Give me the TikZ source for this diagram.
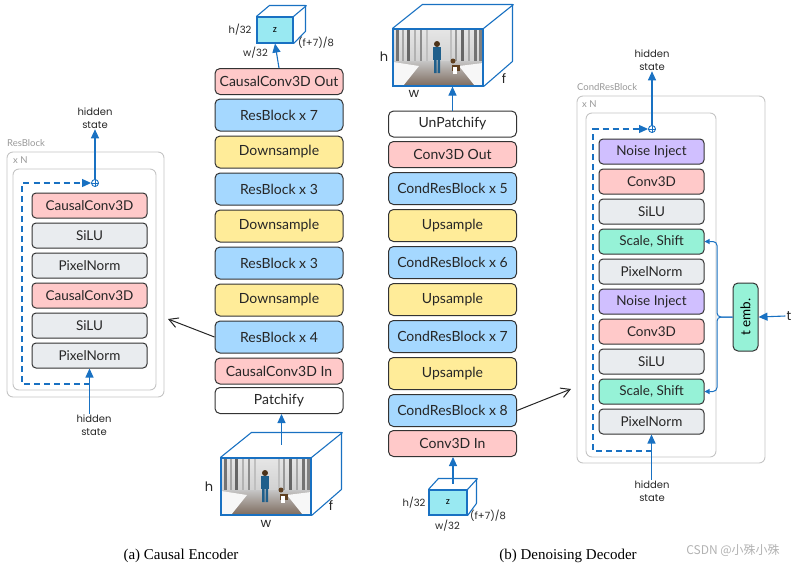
\documentclass[tikz,border=0pt]{standalone}
\usepackage{fontspec}
\usepackage{xcolor}
\usepackage{tikz}
\usetikzlibrary{positioning,arrows.meta,calc}

\newfontfamily\boxfont{Lato}
\newfontfamily\handfont{Poppins}
\newfontfamily\capfont{Liberation Serif}
\newfontfamily\cjk{Noto Sans CJK SC}

\definecolor{convpink}{HTML}{FFC9C9}
\definecolor{resblue}{HTML}{A5D8FF}
\definecolor{sampyellow}{HTML}{FFEC99}
\definecolor{actgray}{HTML}{E9ECEF}
\definecolor{noisepurple}{HTML}{D0BFFF}
\definecolor{shiftgreen}{HTML}{96F2D7}
\definecolor{latentcyan}{HTML}{99E9F2}
\definecolor{linkblue}{HTML}{1971C2}
\definecolor{panelgray}{HTML}{C4C4C4}
\definecolor{boyblue}{HTML}{1F5F8B}
\definecolor{roadbrown}{HTML}{7D6B5E}

% little forest scene used on the front of both video cubes
\newcommand\forestpic[2]{%
  \begin{scope}[shift={(#1,#2)}]
    \shade[top color=gray!20, bottom color=gray!40] (0,0) rectangle (90,40);
    \foreach \tx/\tw/\tc in {3/3/55,9/2/35,14/3/60,21/2/30,27/2/45,33/1.5/25,
                             57/1.5/25,62/2/40,68/3/60,75/2/35,81/3/55,86/2.5/50}
      \fill[black!\tc] (\tx,0) rectangle ++(\tw,38);
    \shade[top color=gray!45, bottom color=roadbrown] (0,32) rectangle (90,57);
    \fill[gray!6] (0,33) -- (26,37) -- (10,57) -- (0,57) -- cycle;
    \fill[gray!6] (90,34) -- (66,37) -- (82,57) -- (90,57) -- cycle;
    \fill[brown!40!black] (44,15) circle (3);
    \fill[boyblue] (40,18) rectangle (48,31);
    \fill[boyblue] (41,31) rectangle (43.5,44) (44.5,31) rectangle (47,44);
    \fill[brown!50!black] (59,36) rectangle (67,42);
    \fill[white] (60,38) rectangle (64,45);
    \fill[brown!50!black] (60,32) circle (2.5);
  \end{scope}}

\begin{document}
\begin{tikzpicture}[x=1pt,y=-1pt,
    blk/.style={draw=black!80,line width=1pt,rounded corners=5pt,inner sep=0pt,
      text=black!85,font=\boxfont\fontsize{14}{16}\selectfont},
    tall/.style={blk,minimum width=128pt,minimum height=32pt},
    flat/.style={blk,minimum width=128pt,minimum height=26pt},
    layer/.style={blk,rounded corners=4pt,minimum height=25pt,
      font=\boxfont\fontsize{13.5}{15}\selectfont},
    panel/.style={draw=panelgray,line width=0.9pt,rounded corners=6pt},
    tag/.style={text=black!40,anchor=west,inner sep=0pt,
      font=\boxfont\fontsize{9.5}{10}\selectfont},
    hand/.style={align=center,inner sep=1pt,text=black!85,
      font=\handfont\fontsize{10}{12.5}\selectfont},
    bighand/.style={hand,font=\handfont\fontsize{13}{14}\selectfont},
    latent/.style={draw=linkblue,line width=1.1pt,fill=latentcyan,inner sep=0pt,
      font=\handfont\fontsize{9}{9}\selectfont},
    frame/.style={draw=linkblue,line width=1.1pt,inner sep=0pt},
    cube/.style={draw=linkblue,line width=1.1pt,line join=round},
    barrow/.style={draw=linkblue,line width=1.1pt,-{Triangle[length=9pt,width=8pt]}},
    skipline/.style={draw=linkblue,line width=1.1pt,dash pattern=on 6pt off 4pt,
      -{Triangle[length=9pt,width=8pt]}},
    brace/.style={draw=linkblue,line width=1pt,rounded corners=4pt,
      -{Triangle[length=5pt,width=5pt]}},
    addop/.style={circle,draw=linkblue,line width=0.9pt,fill=white,inner sep=0pt,
      minimum size=7pt},
    sketch/.style={draw=black!85,line width=1pt,-{Straight Barb[length=9pt,width=10pt]}}]
  \useasboundingbox (0,0) rectangle (796,566);

  % encoder column
  \node[flat,fill=convpink]   (eout) at (279,81.5) {CausalConv3D Out};
  \node[tall,fill=resblue]    (e7)   at (279,115)  {ResBlock x 7};
  \node[tall,fill=sampyellow] (ds3)  at (279,152)  {Downsample};
  \node[tall,fill=resblue]    (e3a)  at (279,189)  {ResBlock x 3};
  \node[tall,fill=sampyellow] (ds2)  at (279,226)  {Downsample};
  \node[tall,fill=resblue]    (e3b)  at (279,263)  {ResBlock x 3};
  \node[tall,fill=sampyellow] (ds1)  at (279,300)  {Downsample};
  \node[tall,fill=resblue]    (e4)   at (279,337)  {ResBlock x 4};
  \node[flat,fill=convpink]   (ein)  at (279,371)  {CausalConv3D In};
  \node[flat,fill=white]      (patch) at (279,400.5) {Patchify};

  % decoder column
  \node[flat,fill=white]      (unp)  at (452.5,124)   {UnPatchify};
  \node[flat,fill=convpink]   (dout) at (452.5,154.5) {Conv3D Out};
  \node[tall,fill=resblue]    (c5)   at (452.5,188.5) {CondResBlock x 5};
  \node[tall,fill=sampyellow] (us3)  at (452.5,225.5) {Upsample};
  \node[tall,fill=resblue]    (c6)   at (452.5,262.5) {CondResBlock x 6};
  \node[tall,fill=sampyellow] (us2)  at (452.5,299.5) {Upsample};
  \node[tall,fill=resblue]    (c7)   at (452.5,336.5) {CondResBlock x 7};
  \node[tall,fill=sampyellow] (us1)  at (452.5,373.5) {Upsample};
  \node[tall,fill=resblue]    (c8)   at (452.5,410.5) {CondResBlock x 8};
  \node[flat,fill=convpink]   (din)  at (452.5,443.5) {Conv3D In};

  % latent cube on top of the encoder
  \node[latent,minimum width=36pt,minimum height=26pt] (zE) at (275,30) {z};
  \draw[cube] (zE.north west) -- ++(13,-11) -- ++(36,0) -- ++(0,26) -- (zE.south east);
  \draw[cube] (zE.north east) -- ++(13,-11);
  \node[hand] (hE) at (240,30) {h/32};
  \node[hand] (wE) at (255.5,53) {w/32};
  \node[hand] (fE) at (316,43) {(f+7)/8};
  \draw[barrow] (eout.north) -- (zE.south);

  % video cube under the encoder
  \forestpic{221}{458}
  \node[frame,minimum width=90pt,minimum height=57pt] (imE) at (266,486.5) {};
  \draw[cube] (imE.north west) -- ++(31,-25) -- ++(90,0) -- ++(0,57) -- (imE.south east);
  \draw[cube] (imE.north east) -- ++(31,-25);
  \node[bighand] (hIE) at (209,487) {h};
  \node[bighand] (wIE) at (266,524) {w};
  \node[bighand] (fIE) at (331,506) {f};
  \coordinate (imEtop) at ($(imE.north)+(15.5,-12.5)$);
  \draw[barrow] (imEtop) -- (imEtop |- patch.south);

  % video cube on top of the decoder
  \forestpic{393}{29}
  \node[frame,minimum width=90pt,minimum height=57pt] (imD) at (438,57.5) {};
  \draw[cube] (imD.north west) -- ++(30,-24) -- ++(90,0) -- ++(0,57) -- (imD.south east);
  \draw[cube] (imD.north east) -- ++(30,-24);
  \node[bighand] (hID) at (384,57) {h};
  \node[bighand] (wID) at (414,94) {w};
  \node[bighand] (fID) at (504,79) {f};
  \draw[barrow] (unp.north) -- (unp.north |- imD.south);

  % latent cube under the decoder
  \node[latent,minimum width=38pt,minimum height=25pt] (zD) at (448,502.5) {z};
  \draw[cube] (zD.north west) -- ++(10,-11) -- ++(38,0) -- ++(0,25) -- (zD.south east);
  \draw[cube] (zD.north east) -- ++(10,-11);
  \node[hand] (hD) at (414,503) {h/32};
  \node[hand] (wD) at (447.5,526) {w/32};
  \node[hand] (fD) at (488,516) {(f+7)/8};
  \coordinate (zDtop) at ($(zD.north)+(5,-5.5)$);
  \draw[barrow] (zDtop) -- (zDtop |- din.south);

  % ResBlock detail
  \node[tag] (resTag) at (7,143) {ResBlock};
  \draw[panel] (7,152) rectangle (164,397);
  \node[tag] (resN) at (13,160) {x N};
  \draw[panel] (13,169) rectangle (156,390);
  \foreach \nm/\lbl/\col [count=\i] in {rc1/CausalConv3D/convpink,ra1/SiLU/actgray,
      rp1/PixelNorm/actgray,rc2/CausalConv3D/convpink,ra2/SiLU/actgray,rp2/PixelNorm/actgray}
    \node[layer,minimum width=115pt,fill=\col] (\nm) at (89.5,175.5+30*\i) {\lbl};
  \node[addop] (addL) at (95,183) {};
  \draw[linkblue,line width=0.7pt] (addL.north) -- (addL.south) (addL.west) -- (addL.east);
  \coordinate (skipL) at (22,384);
  \draw[skipline] (skipL -| rp2.south) -- (skipL) |- (addL.west);
  \node[hand] (outL) at (95,118) {hidden\\state};
  \node[hand] (inL) at (94,425) {hidden\\state};
  \draw[barrow] (addL.north) -- (outL.south);
  \draw[barrow] (inL.north -| rp2.south) -- (rp2.south);

  % CondResBlock detail
  \node[tag] (condTag) at (577,87) {CondResBlock};
  \draw[panel] (577,96) rectangle (765,463);
  \node[tag] (condN) at (582,104) {x N};
  \draw[panel] (586,113) rectangle (716,457);
  \foreach \nm/\lbl/\col [count=\i] in {n1/Noise Inject/noisepurple,v1/Conv3D/convpink,
      a1/SiLU/actgray,s1/{Scale, Shift}/shiftgreen,p1/PixelNorm/actgray,
      n2/Noise Inject/noisepurple,v2/Conv3D/convpink,a2/SiLU/actgray,
      s2/{Scale, Shift}/shiftgreen,p2/PixelNorm/actgray}
    \node[layer,minimum width=105pt,fill=\col] (\nm) at (651.5,121.5+30*\i) {\lbl};
  \node[addop] (addR) at (652,129) {};
  \draw[linkblue,line width=0.7pt] (addR.north) -- (addR.south) (addR.west) -- (addR.east);
  \coordinate (skipR) at (593,451);
  \draw[skipline] (skipR -| p2.south) -- (skipR) |- (addR.west);
  \node[hand] (outR) at (652,60) {hidden\\state};
  \node[hand] (inR) at (652,491) {hidden\\state};
  \draw[barrow] (addR.north) -- (outR.south);
  \draw[barrow] (inR.north -| p2.south) -- (p2.south);

  % time embedding
  \node[blk,rounded corners=5pt,fill=shiftgreen,minimum width=25pt,minimum height=68pt]
    (temb) at (745.5,317) {};
  \node[rotate=90,inner sep=0pt,font=\boxfont\fontsize{13.5}{15}\selectfont]
    (tembTxt) at (temb) {t emb.};
  \node[bighand] (tin) at (789,316) {t};
  \draw[barrow] (tin.west) -- (temb.east);
  \coordinate (braceMid) at (717,317);
  \draw[brace] (temb.west) -- (braceMid) |- (s1.east);
  \draw[brace] (temb.west) -- (braceMid) |- (s2.east);

  % links to the detail panels
  \coordinate (resIn) at (168,319);
  \coordinate (condIn) at (571,389);
  \draw[sketch] (e4.west) -- (resIn);
  \draw[sketch] (c8.east) -- (condIn);

  % captions
  \node[font=\capfont\fontsize{15}{17}\selectfont] (capA) at (181,556) {(a) Causal Encoder};
  \node[font=\capfont\fontsize{15}{17}\selectfont] (capB) at (568,556) {(b) Denoising Decoder};
  \node[text=black!30,font=\cjk\fontsize{12}{14}\selectfont] (mark) at (733,551) {CSDN @小殊小殊};
\end{tikzpicture}
\end{document}
